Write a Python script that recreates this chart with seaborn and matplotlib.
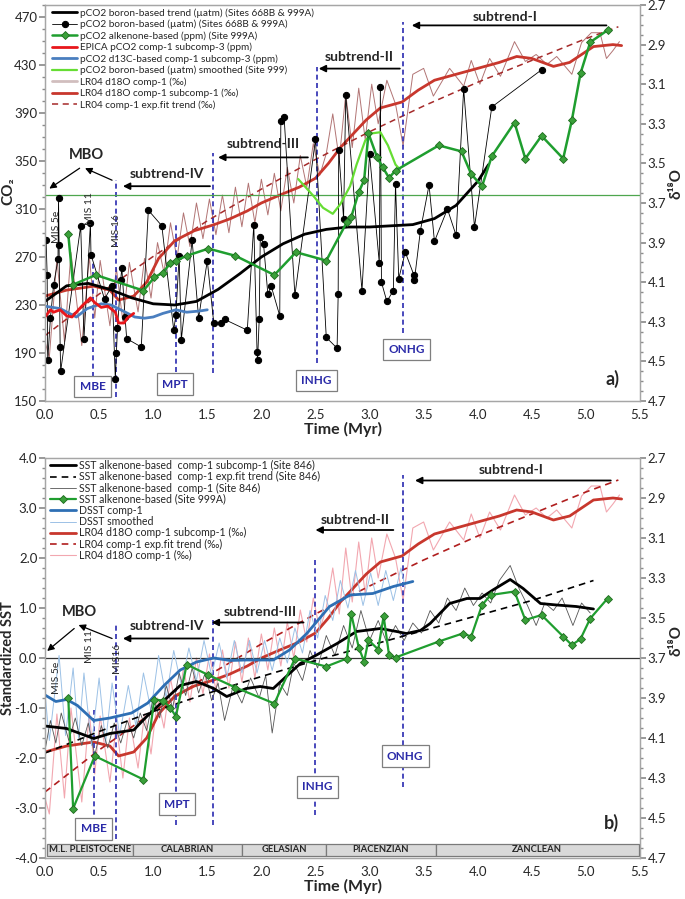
import numpy as np
import pandas as pd
import matplotlib
matplotlib.use("Agg")
import matplotlib.pyplot as plt
import seaborn as sns
from matplotlib.patches import Rectangle
from matplotlib.ticker import MultipleLocator, FormatStrFormatter, FixedLocator

sns.set_theme(style="white")
plt.rcParams['font.family'] = ['Lato', 'DejaVu Sans']
plt.rcParams['axes.unicode_minus'] = False

# ---------------- DATA : panel a ----------------
trend_x = [0, 0.2, 0.4, 0.6, 0.8, 1.0, 1.2, 1.4, 1.6, 1.8, 2.0, 2.2, 2.4, 2.6, 2.8, 3.0, 3.2, 3.4, 3.6, 3.8, 4.0, 4.1]
trend_y = [233, 246, 248, 243, 236, 231, 230, 233, 243, 256, 270, 281, 289, 293, 295, 295, 296, 297, 302, 313, 333, 347]

boron_x = [0.01, 0.02, 0.025, 0.05, 0.08, 0.12, 0.125, 0.13, 0.14, 0.145, 0.33, 0.36, 0.42, 0.425, 0.55,
           0.62, 0.65, 0.66, 0.67, 0.70, 0.71, 0.74, 0.755, 0.89, 0.955, 1.08, 1.19, 1.21, 1.24, 1.26,
           1.36, 1.42, 1.50, 1.56, 1.63, 1.66, 1.87, 1.93, 1.96, 1.965, 1.98, 1.99, 2.02, 2.06, 2.09,
           2.17, 2.18, 2.21, 2.31, 2.50, 2.60, 2.70, 2.71, 2.715, 2.76, 2.78, 2.93, 3.00, 3.09, 3.10,
           3.11, 3.16, 3.22, 3.24, 3.27, 3.33, 3.41, 3.415, 3.47, 3.55, 3.60, 3.72, 3.80, 3.87, 3.97,
           4.13, 4.59]
boron_y = [284, 255, 184, 219, 247, 268, 319, 280, 195, 175, 296, 202, 298, 272, 235,
           246, 168, 190, 211, 251, 261, 220, 202, 195, 309, 296, 209, 222, 271, 201,
           284, 219, 267, 215, 215, 218, 209, 297, 191, 184, 218, 287, 281, 239, 246,
           221, 383, 387, 238, 368, 203, 194, 239, 359, 302, 405, 242, 356, 265, 412,
           249, 233, 242, 331, 252, 274, 255, 251, 292, 330, 283, 310, 288, 410, 295,
           395, 426]

alk_x = [0.215, 0.26, 0.47, 0.91, 1.01, 1.09, 1.16, 1.21, 1.31, 1.51, 1.76, 2.12, 2.32, 2.60, 2.79,
         2.83, 2.90, 2.95, 2.99, 3.07, 3.12, 3.18, 3.24, 3.64, 3.85, 3.94, 4.04, 4.13, 4.34, 4.44,
         4.59, 4.79, 4.87, 4.95, 5.04, 5.20]
alk_y = [289, 247, 255, 242, 253, 257, 265, 267, 271, 277, 271, 255, 274, 267, 299,
         303, 324, 334, 373, 353, 345, 336, 342, 363, 358, 339, 329, 354, 382, 352,
         371, 352, 384, 423, 449, 459]

epica_x = [0, 0.05, 0.08, 0.14, 0.2, 0.25, 0.34, 0.42, 0.46, 0.52, 0.58, 0.65, 0.68, 0.73, 0.76, 0.82]
epica_y = [220, 226, 224, 226, 221, 220, 229, 236, 232, 228, 229, 224, 215, 215, 219, 223]

d13c_x = [0, 0.14, 0.29, 0.39, 0.52, 0.61, 0.70, 0.83, 0.92, 1.0, 1.09, 1.21, 1.31, 1.43, 1.5]
d13c_y = [229, 227, 220, 227, 231, 230, 226, 220, 219, 220, 223, 226, 224, 225, 226]

bsm_x = [2.34, 2.48, 2.57, 2.66, 2.73, 2.82, 2.88, 2.96, 3.02, 3.10, 3.17, 3.24, 3.28]
bsm_y = [335, 321, 311, 306, 314, 329, 347, 367, 373, 374, 363, 347, 343]

co2_ref_line = 322

# ---------------- DATA : LR04 (shared, permil) ----------------
lr04_x = [0.00, 0.04, 0.11, 0.18, 0.24, 0.34, 0.41, 0.46, 0.51, 0.60, 0.66, 0.72, 0.78, 0.86, 0.92,
          0.98, 1.04, 1.10, 1.16, 1.22, 1.28, 1.34, 1.40, 1.46, 1.52, 1.58, 1.64, 1.70, 1.76, 1.82,
          1.88, 1.94, 2.00, 2.06, 2.12, 2.18, 2.24, 2.30, 2.36, 2.42, 2.48, 2.54, 2.60, 2.66, 2.72,
          2.78, 2.84, 2.90, 2.96, 3.02, 3.08, 3.16, 3.24, 3.31, 3.40, 3.50, 3.59, 3.74, 3.87, 3.94,
          4.02, 4.11, 4.21, 4.34, 4.44, 4.54, 4.64, 4.73, 4.87, 4.96, 5.05, 5.13, 5.19, 5.25, 5.31]
lr04_d = [4.40, 4.48, 3.98, 4.40, 3.95, 4.42, 3.97, 4.28, 3.99, 4.32, 4.03, 4.30, 4.00, 4.25, 3.98,
          4.18, 3.90, 4.05, 3.80, 3.98, 3.75, 3.92, 3.70, 3.88, 3.68, 3.86, 3.66, 3.85, 3.62, 3.82,
          3.60, 3.80, 3.58, 3.76, 3.55, 3.74, 3.52, 3.70, 3.46, 3.62, 3.40, 3.56, 3.45, 3.25, 3.48,
          3.15, 3.42, 3.12, 3.38, 3.10, 3.30, 3.08, 3.20, 3.41, 3.05, 3.02, 3.16, 3.02, 3.11, 2.98,
          3.10, 2.97, 3.06, 2.885, 2.985, 2.95, 3.00, 2.96, 3.05, 2.89, 2.84, 2.84, 2.97, 2.93, 2.885]

lr04s_x = [0, 0.2, 0.45, 0.6, 0.68, 0.82, 0.94, 1.05, 1.2, 1.38, 1.56, 1.71, 1.87, 2.0, 2.17, 2.35,
           2.5, 2.62, 2.73, 2.85, 2.97, 3.1, 3.3, 3.45, 3.6, 3.8, 4.0, 4.2, 4.36, 4.5, 4.7, 4.85,
           5.07, 5.25, 5.33]
lr04s_d = [4.17, 4.14, 4.12, 4.14, 4.19, 4.17, 4.10, 3.98, 3.89, 3.84, 3.81, 3.78, 3.74, 3.70, 3.66,
           3.62, 3.575, 3.50, 3.42, 3.35, 3.28, 3.22, 3.19, 3.13, 3.08, 3.05, 3.02, 2.99, 2.96, 2.97,
           3.01, 2.99, 2.91, 2.90, 2.905]

lr04fit_x = [0, 0.5, 1.0, 1.5, 2.0, 2.5, 3.0, 3.5, 4.0, 4.5, 5.0, 5.3]
lr04fit_d = [4.37, 4.16, 3.97, 3.79, 3.63, 3.48, 3.34, 3.21, 3.09, 2.98, 2.87, 2.81]

# ---------------- DATA : panel b ----------------
s846s_x = [0, 0.2, 0.45, 0.6, 0.82, 0.94, 1.09, 1.25, 1.40, 1.56, 1.68, 1.86, 1.99, 2.11, 2.23, 2.36,
           2.51, 2.70, 2.88, 3.10, 3.25, 3.34, 3.47, 3.56, 3.74, 3.90, 4.02, 4.14, 4.30, 4.42, 4.58,
           4.73, 4.91, 5.07]
s846s_y = [-1.36, -1.41, -1.61, -1.51, -1.44, -1.17, -0.87, -0.55, -0.47, -0.61, -0.77, -0.61, -0.57,
           -0.61, -0.37, -0.11, 0.06, 0.29, 0.53, 0.59, 0.53, 0.49, 0.55, 0.69, 1.09, 1.19, 1.19, 1.36,
           1.57, 1.39, 1.09, 1.06, 1.03, 0.98]

s846fit_x = [0, 0.5, 1.0, 1.5, 2.0, 2.5, 3.0, 3.5, 4.0, 4.5, 5.07]
s846fit_y = [-1.90, -1.47, -1.07, -0.71, -0.37, -0.05, 0.25, 0.55, 0.85, 1.15, 1.55]

s846_x = [0.00, 0.05, 0.10, 0.15, 0.22, 0.28, 0.34, 0.40, 0.46, 0.52, 0.58, 0.64, 0.70, 0.76, 0.82,
          0.88, 0.94, 1.00, 1.06, 1.12, 1.18, 1.24, 1.30, 1.36, 1.42, 1.48, 1.54, 1.60, 1.66, 1.74,
          1.82, 1.90, 1.98, 2.04, 2.10, 2.17, 2.24, 2.30, 2.38, 2.45, 2.52, 2.60, 2.68, 2.76, 2.84,
          2.92, 3.00, 3.08, 3.16, 3.24, 3.32, 3.40, 3.48, 3.56, 3.64, 3.72, 3.80, 3.88, 3.96, 4.04,
          4.12, 4.20, 4.30, 4.38, 4.46, 4.54, 4.62, 4.70, 4.78, 4.88, 4.96, 5.04]
s846_y = [-1.85, -1.25, -1.70, -1.10, -1.65, -1.20, -1.75, -1.30, -1.95, -1.35, -1.80, -1.30, -1.70,
          -1.25, -1.60, -1.10, -1.45, -0.80, -1.20, -0.55, -1.00, -0.30, -0.75, -0.20, -0.70, -0.30,
          -0.85, -0.50, -1.25, -0.55, -0.90, -0.40, -0.80, -0.35, -1.50, -0.50, -0.75, -0.10, -0.45,
          0.15, -0.20, 0.45, 0.05, 0.65, 0.20, 0.95, 0.35, 0.75, 0.30, 0.65, 0.35, 0.70, 0.50, 0.95,
          0.70, 1.20, 0.95, 1.40, 1.05, 1.30, 1.10, 1.55, 1.85, 1.40, 1.05, 0.65, 1.10, 0.95, 1.20,
          0.65, 1.10, 0.90]

s999_x = [0.215, 0.26, 0.46, 0.91, 1.01, 1.09, 1.16, 1.21, 1.31, 1.51, 1.76, 2.12, 2.31, 2.60, 2.79,
          2.83, 2.90, 2.95, 2.99, 3.08, 3.13, 3.18, 3.24, 3.64, 3.86, 3.94, 4.04, 4.12, 4.34, 4.44,
          4.59, 4.79, 4.87, 4.95, 5.04, 5.20]
s999_y = [-0.79, -3.01, -1.96, -2.43, -0.83, -0.85, -1.00, -1.17, -0.13, -0.34, -0.59, -0.91, -0.01,
          -0.17, -0.01, 0.89, 0.21, -0.07, 0.36, 0.17, 0.84, 0.06, 0.01, 0.33, 0.49, 0.43, 1.06, 1.26,
          1.33, 0.76, 0.86, 0.43, 0.26, 0.38, 0.79, 1.19]

dsst_x = [0, 0.1, 0.2, 0.3, 0.45, 0.6, 0.8, 0.95, 1.1, 1.25, 1.4, 1.56, 1.71, 1.86, 2.11, 2.26, 2.42,
          2.63, 2.82, 3.03, 3.22, 3.40]
dsst_y = [-0.74, -0.87, -0.83, -0.95, -1.25, -1.20, -1.10, -0.90, -0.55, -0.24, -0.08, 0.0, -0.05,
          -0.04, -0.04, 0.16, 0.49, 1.03, 1.26, 1.29, 1.43, 1.53]

dsst_sm_x = [0.00, 0.04, 0.13, 0.19, 0.26, 0.31, 0.36, 0.43, 0.50, 0.56, 0.62, 0.69, 0.77, 0.84, 0.91,
             0.98, 1.05, 1.12, 1.19, 1.26, 1.33, 1.40, 1.47, 1.54, 1.61, 1.68, 1.75, 1.82, 1.89, 1.96,
             2.03, 2.10, 2.17, 2.24, 2.31, 2.38, 2.45, 2.52, 2.59, 2.66, 2.73, 2.80, 2.87, 2.94, 3.01,
             3.08, 3.15, 3.22, 3.29, 3.33]
dsst_sm_y = [-0.70, -1.65, 0.05, -1.55, -0.20, -1.60, -0.30, -1.75, -0.40, -1.70, -0.50, -1.55, -0.55,
             -1.35, -0.30, -1.05, 0.05, -0.80, 0.15, -0.55, 0.20, -0.45, 0.35, -0.35, 0.30, -0.40, 0.35,
             -0.30, 0.35, -0.30, 0.35, -0.25, 0.40, -0.10, 0.60, 0.10, 0.95, 0.40, 1.25, 0.75, 1.55,
             1.00, 1.75, 1.05, 1.70, 1.05, 1.75, 1.15, 1.80, 1.40]

# event markers (x in Myr) and their vertical extents
ev_a = {"MBE": (0.44, 170, 265), "MIS16": (0.655, 153, 334), "MPT": (1.21, 174, 299),
        "B4": (1.55, 173, 357), "INHG": (2.51, 182, 428), "ONHG": (3.31, 207, 466)}
ev_b = {"MBE": (0.45, -3.30, -1.04), "MIS16": (0.66, -3.61, 0.69), "MPT": (1.21, -3.34, -0.60),
        "B4": (1.55, -3.34, 0.76), "INHG": (2.50, -3.14, 1.96), "ONHG": (3.31, -2.57, 3.66)}

stage_names = ["M.L. PLEISTOCENE", "CALABRIAN", "GELASIAN", "PIACENZIAN", "ZANCLEAN"]
stage_edges = [0.02, 0.81, 1.82, 2.60, 3.61, 5.49]

d18o_ticks = [2.7, 2.9, 3.1, 3.3, 3.5, 3.7, 3.9, 4.1, 4.3, 4.5, 4.7]

# ---------------- helpers ----------------
def line(ax, x, y, **kw):
    sns.lineplot(x=list(x), y=list(y), ax=ax, estimator=None, sort=False, legend=False, **kw)
    return ax.lines[-1]

fig = plt.figure(figsize=(6.85, 8.99), dpi=100)
axA = fig.add_axes([45/685, 1-401/899, 595/685, 396/899])
axB = fig.add_axes([45/685, 1-858/899, 595/685, 400/899])

RED = "#c8372d"
DRED = "#a52a2a"
GREEN = "#1f9e2f"
BLUEV = "#2a2ab0"

def style_axes(ax, ax2, ylab_y, rlab_y):
    for a in (ax, ax2):
        for s in a.spines.values():
            s.set_color("#a6a6a6")
            s.set_linewidth(0.9)
        a.tick_params(which="both", direction="out", color="#8c8c8c", labelsize=9.5,
                      labelcolor="#262626", pad=1.5)
        a.tick_params(which="major", length=4)
        a.tick_params(which="minor", length=2.5)
    ax.set_xlim(0, 5.5)
    ax.xaxis.set_major_locator(MultipleLocator(0.5))
    ax.xaxis.set_minor_locator(MultipleLocator(0.1))
    ax.xaxis.set_major_formatter(FormatStrFormatter("%.1f"))
    ax2.set_ylim(4.7, 2.7)
    ax2.yaxis.set_major_locator(FixedLocator(d18o_ticks))
    ax2.yaxis.set_minor_locator(MultipleLocator(0.05))
    ax2.yaxis.set_major_formatter(FormatStrFormatter("%.1f"))
    ax2.set_ylabel("δ¹⁸O", fontsize=11, fontweight="bold", rotation=90)
    ax2.yaxis.set_label_coords(1.049, rlab_y)
    ax.set_xlabel("Time (Myr)", fontsize=11.5, fontweight="bold", labelpad=1)
    ax.yaxis.set_label_coords(-0.0505, ylab_y)
    ax.set_zorder(ax2.get_zorder() + 1)
    ax.patch.set_visible(False)

# ================= PANEL A =================
axA2 = axA.twinx()
hA = {}
hA["lr_thin"] = line(axA2, lr04_x, lr04_d, color="#a45c5c", lw=0.7, alpha=0.85)
hA["lr_fit"] = line(axA2, lr04fit_x, lr04fit_d, color=DRED, lw=1.1, linestyle=(0, (4, 3)))
hA["lr_sub"] = line(axA2, lr04s_x, lr04s_d, color=RED, lw=2.0)

axA.axhline(co2_ref_line, color="#4ea64e", lw=0.9)
hA["boron"] = line(axA, boron_x, boron_y, color="black", lw=0.6, marker="o", markersize=4.5,
                   markerfacecolor="black", markeredgecolor="black")
hA["trend"] = line(axA, trend_x, trend_y, color="black", lw=2.0)
hA["d13c"] = line(axA, d13c_x, d13c_y, color="#4a7ebf", lw=2.0)
hA["epica"] = line(axA, epica_x, epica_y, color="#e8161b", lw=2.0)
hA["bsm"] = line(axA, bsm_x, bsm_y, color="#66dd33", lw=1.6)
hA["alk"] = line(axA, alk_x, alk_y, color=GREEN, lw=1.8, marker="D", markersize=4.2,
                 markerfacecolor="#3aa03a", markeredgecolor="#1d6b1d", markeredgewidth=0.6)

axA.set_ylim(150, 480)
axA.yaxis.set_major_locator(FixedLocator(list(range(150, 471, 40))))
axA.yaxis.set_minor_locator(MultipleLocator(10))
axA.set_ylabel("CO₂", fontsize=11, fontweight="bold")
style_axes(axA, axA2, 0.53, 0.55)

for k, (x, y0, y1) in ev_a.items():
    axA.plot([x, x], [y0, y1], color=BLUEV, lw=1.2, linestyle=(0, (3, 2)), zorder=1)

box = dict(boxstyle="square,pad=0.45", fc="white", ec="#7f7f7f", lw=0.9)
for txt, x, y in [("MBE", 0.44, 162), ("MPT", 1.20, 164), ("INHG", 2.51, 167), ("ONHG", 3.34, 193)]:
    axA.text(x, y, txt, ha="center", va="center", color="#2a2aa8", fontsize=8.5,
             fontweight="bold", bbox=box)

arr = dict(arrowstyle="-|>", color="black", lw=1.3, mutation_scale=10, shrinkA=0, shrinkB=0)
for txt, tx, ty, x0, x1, ya in [("subtrend-I", 4.25, 470, 5.19, 3.39, 463),
                                ("subtrend-II", 2.90, 437, 3.28, 2.53, 427),
                                ("subtrend-III", 2.02, 364, 2.43, 1.60, 353),
                                ("subtrend-IV", 1.125, 339, 1.525, 0.72, 329)]:
    axA.text(tx, ty, txt, ha="center", va="center", fontsize=10, fontweight="bold")
    axA.annotate("", xy=(x1, ya), xytext=(x0, ya), arrowprops=arr)
axA.text(0.38, 355, "MBO", ha="center", va="center", fontsize=10.5, fontweight="bold")
axA.annotate("", xy=(0.04, 327), xytext=(0.32, 344), arrowprops=dict(arr, lw=0.9))
axA.annotate("", xy=(0.37, 344), xytext=(0.62, 334), arrowprops=dict(arr, lw=0.9))
for txt, x, y in [("MIS 5e", 0.11, 295), ("MIS 11", 0.41, 310), ("MIS 16", 0.66, 292)]:
    axA.text(x, y, txt, rotation=90, ha="center", va="center", fontsize=7.5)
axA.text(5.25, 168, "a)", ha="center", va="center", fontsize=13, fontweight="bold")

order_a = [("trend", "pCO2 boron-based trend (µatm) (Sites 668B & 999A)"),
           ("boron", "pCO2 boron-based (µatm) (Sites 668B & 999A)"),
           ("alk", "pCO2 alkenone-based (ppm) (Site 999A)"),
           ("epica", "EPICA pCO2 comp-1 subcomp-3 (ppm)"),
           ("d13c", "pCO2 d13C-based comp-1 subcomp-3 (ppm)"),
           ("bsm", "pCO2 boron-based (µatm) smoothed (Site 999)"),
           ("lr_thin", "LR04 d18O comp-1 (‰)"),
           ("lr_sub", "LR04 d18O comp-1 subcomp-1 (‰)"),
           ("lr_fit", "LR04 comp-1 exp.fit trend (‰)")]
legA = axA.legend([hA[k] for k, _ in order_a], [l for _, l in order_a], loc="upper left",
                  bbox_to_anchor=(52/685, 1-8/899), bbox_transform=fig.transFigure,
                  frameon=False, fontsize=7.2, handlelength=2.5, handletextpad=0.27,
                  labelspacing=0.2, borderaxespad=0, borderpad=0)
legA.legend_handles[6].set_color("#c9b3b3")
legA.legend_handles[6].set_linewidth(2)

# ================= PANEL B =================
axB2 = axB.twinx()
hB = {}
hB["lr_thin"] = line(axB2, lr04_x, lr04_d, color="#f2a7b0", lw=0.8)
hB["lr_fit"] = line(axB2, lr04fit_x, lr04fit_d, color="#b01e1e", lw=1.2, linestyle=(0, (4, 3)))
hB["lr_sub"] = line(axB2, lr04s_x, lr04s_d, color=RED, lw=2.0)

axB.axhline(0, color="#333333", lw=0.9)
hB["dsm"] = line(axB, dsst_sm_x, dsst_sm_y, color="#9cc1e6", lw=0.7)
hB["s846"] = line(axB, s846_x, s846_y, color="#555555", lw=0.6)
hB["s846fit"] = line(axB, s846fit_x, s846fit_y, color="black", lw=1.2, linestyle=(0, (4, 3)))
hB["dsst"] = line(axB, dsst_x, dsst_y, color="#2e6fb4", lw=2.0)
hB["s846s"] = line(axB, s846s_x, s846s_y, color="black", lw=2.0)
hB["s999"] = line(axB, s999_x, s999_y, color=GREEN, lw=1.6, marker="D", markersize=4.2,
                  markerfacecolor="#3aa03a", markeredgecolor="#1d6b1d", markeredgewidth=0.6)

axB.set_ylim(-4, 4)
axB.yaxis.set_major_locator(MultipleLocator(1.0))
axB.yaxis.set_minor_locator(MultipleLocator(0.2))
axB.yaxis.set_major_formatter(FormatStrFormatter("%.1f"))
axB.set_ylabel("Standardized SST", fontsize=10.5, fontweight="bold")
style_axes(axB, axB2, 0.5, 0.545)

for k, (x, y0, y1) in ev_b.items():
    axB.plot([x, x], [y0, y1], color=BLUEV, lw=1.2, linestyle=(0, (3, 2)), zorder=1)

for txt, x, y in [("MBE", 0.45, -3.42), ("MPT", 1.22, -2.92), ("INHG", 2.52, -2.58), ("ONHG", 3.33, -1.96)]:
    axB.text(x, y, txt, ha="center", va="center", color="#2a2aa8", fontsize=8.5,
             fontweight="bold", bbox=box)

for txt, tx, ty, x0, x1, ya in [("subtrend-I", 4.31, 3.76, 5.23, 3.42, 3.55),
                                ("subtrend-II", 2.865, 2.76, 3.22, 2.50, 2.56),
                                ("subtrend-III", 1.99, 0.91, 2.39, 1.54, 0.71),
                                ("subtrend-IV", 1.125, 0.63, 1.51, 0.72, 0.39)]:
    axB.text(tx, ty, txt, ha="center", va="center", fontsize=10, fontweight="bold")
    axB.annotate("", xy=(x1, ya), xytext=(x0, ya), arrowprops=arr)
axB.text(0.32, 0.93, "MBO", ha="center", va="center", fontsize=10.5, fontweight="bold")
axB.annotate("", xy=(0.02, 0.14), xytext=(0.27, 0.59), arrowprops=dict(arr, lw=0.9))
axB.annotate("", xy=(0.31, 0.66), xytext=(0.62, 0.39), arrowprops=dict(arr, lw=0.9))
for txt, x, y in [("MIS 5e", 0.11, -0.40), ("MIS 11", 0.41, 0.23), ("MIS16", 0.66, 0.0)]:
    axB.text(x, y, txt, rotation=90, ha="center", va="center", fontsize=7.5)
axB.text(5.24, -3.3, "b)", ha="center", va="center", fontsize=13, fontweight="bold")

for name, a, b in zip(stage_names, stage_edges[:-1], stage_edges[1:]):
    axB.add_patch(Rectangle((a, -3.96), b - a, 0.24, fc="#d9d9d9", ec="#7a7a7a", lw=0.9, zorder=3))
    axB.text((a + b) / 2, -3.84, name, ha="center", va="center", fontsize=6.8,
             fontweight="bold", color="#262626", zorder=4)

order_b = [("s846s", "SST alkenone-based  comp-1 subcomp-1 (Site 846)"),
           ("s846fit", "SST alkenone-based  comp-1 exp.fit trend (Site 846)"),
           ("s846", "SST alkenone-based  comp-1 (Site 846)"),
           ("s999", "SST alkenone-based (Site 999A)"),
           ("dsst", "DSST comp-1"),
           ("dsm", "DSST smoothed"),
           ("lr_sub", "LR04 d18O comp-1 subcomp-1 (‰)"),
           ("lr_fit", "LR04 comp-1 exp.fit trend (‰)"),
           ("lr_thin", "LR04 d18O comp-1 (‰)")]
axB.legend([hB[k] for k, _ in order_b], [l for _, l in order_b], loc="upper left",
           bbox_to_anchor=(50/685, 1-460/899), bbox_transform=fig.transFigure,
           frameon=False, fontsize=7.6, handlelength=2.5, handletextpad=0.27,
           labelspacing=0.02, borderaxespad=0, borderpad=0)

fig.savefig("out.png", dpi=100)
